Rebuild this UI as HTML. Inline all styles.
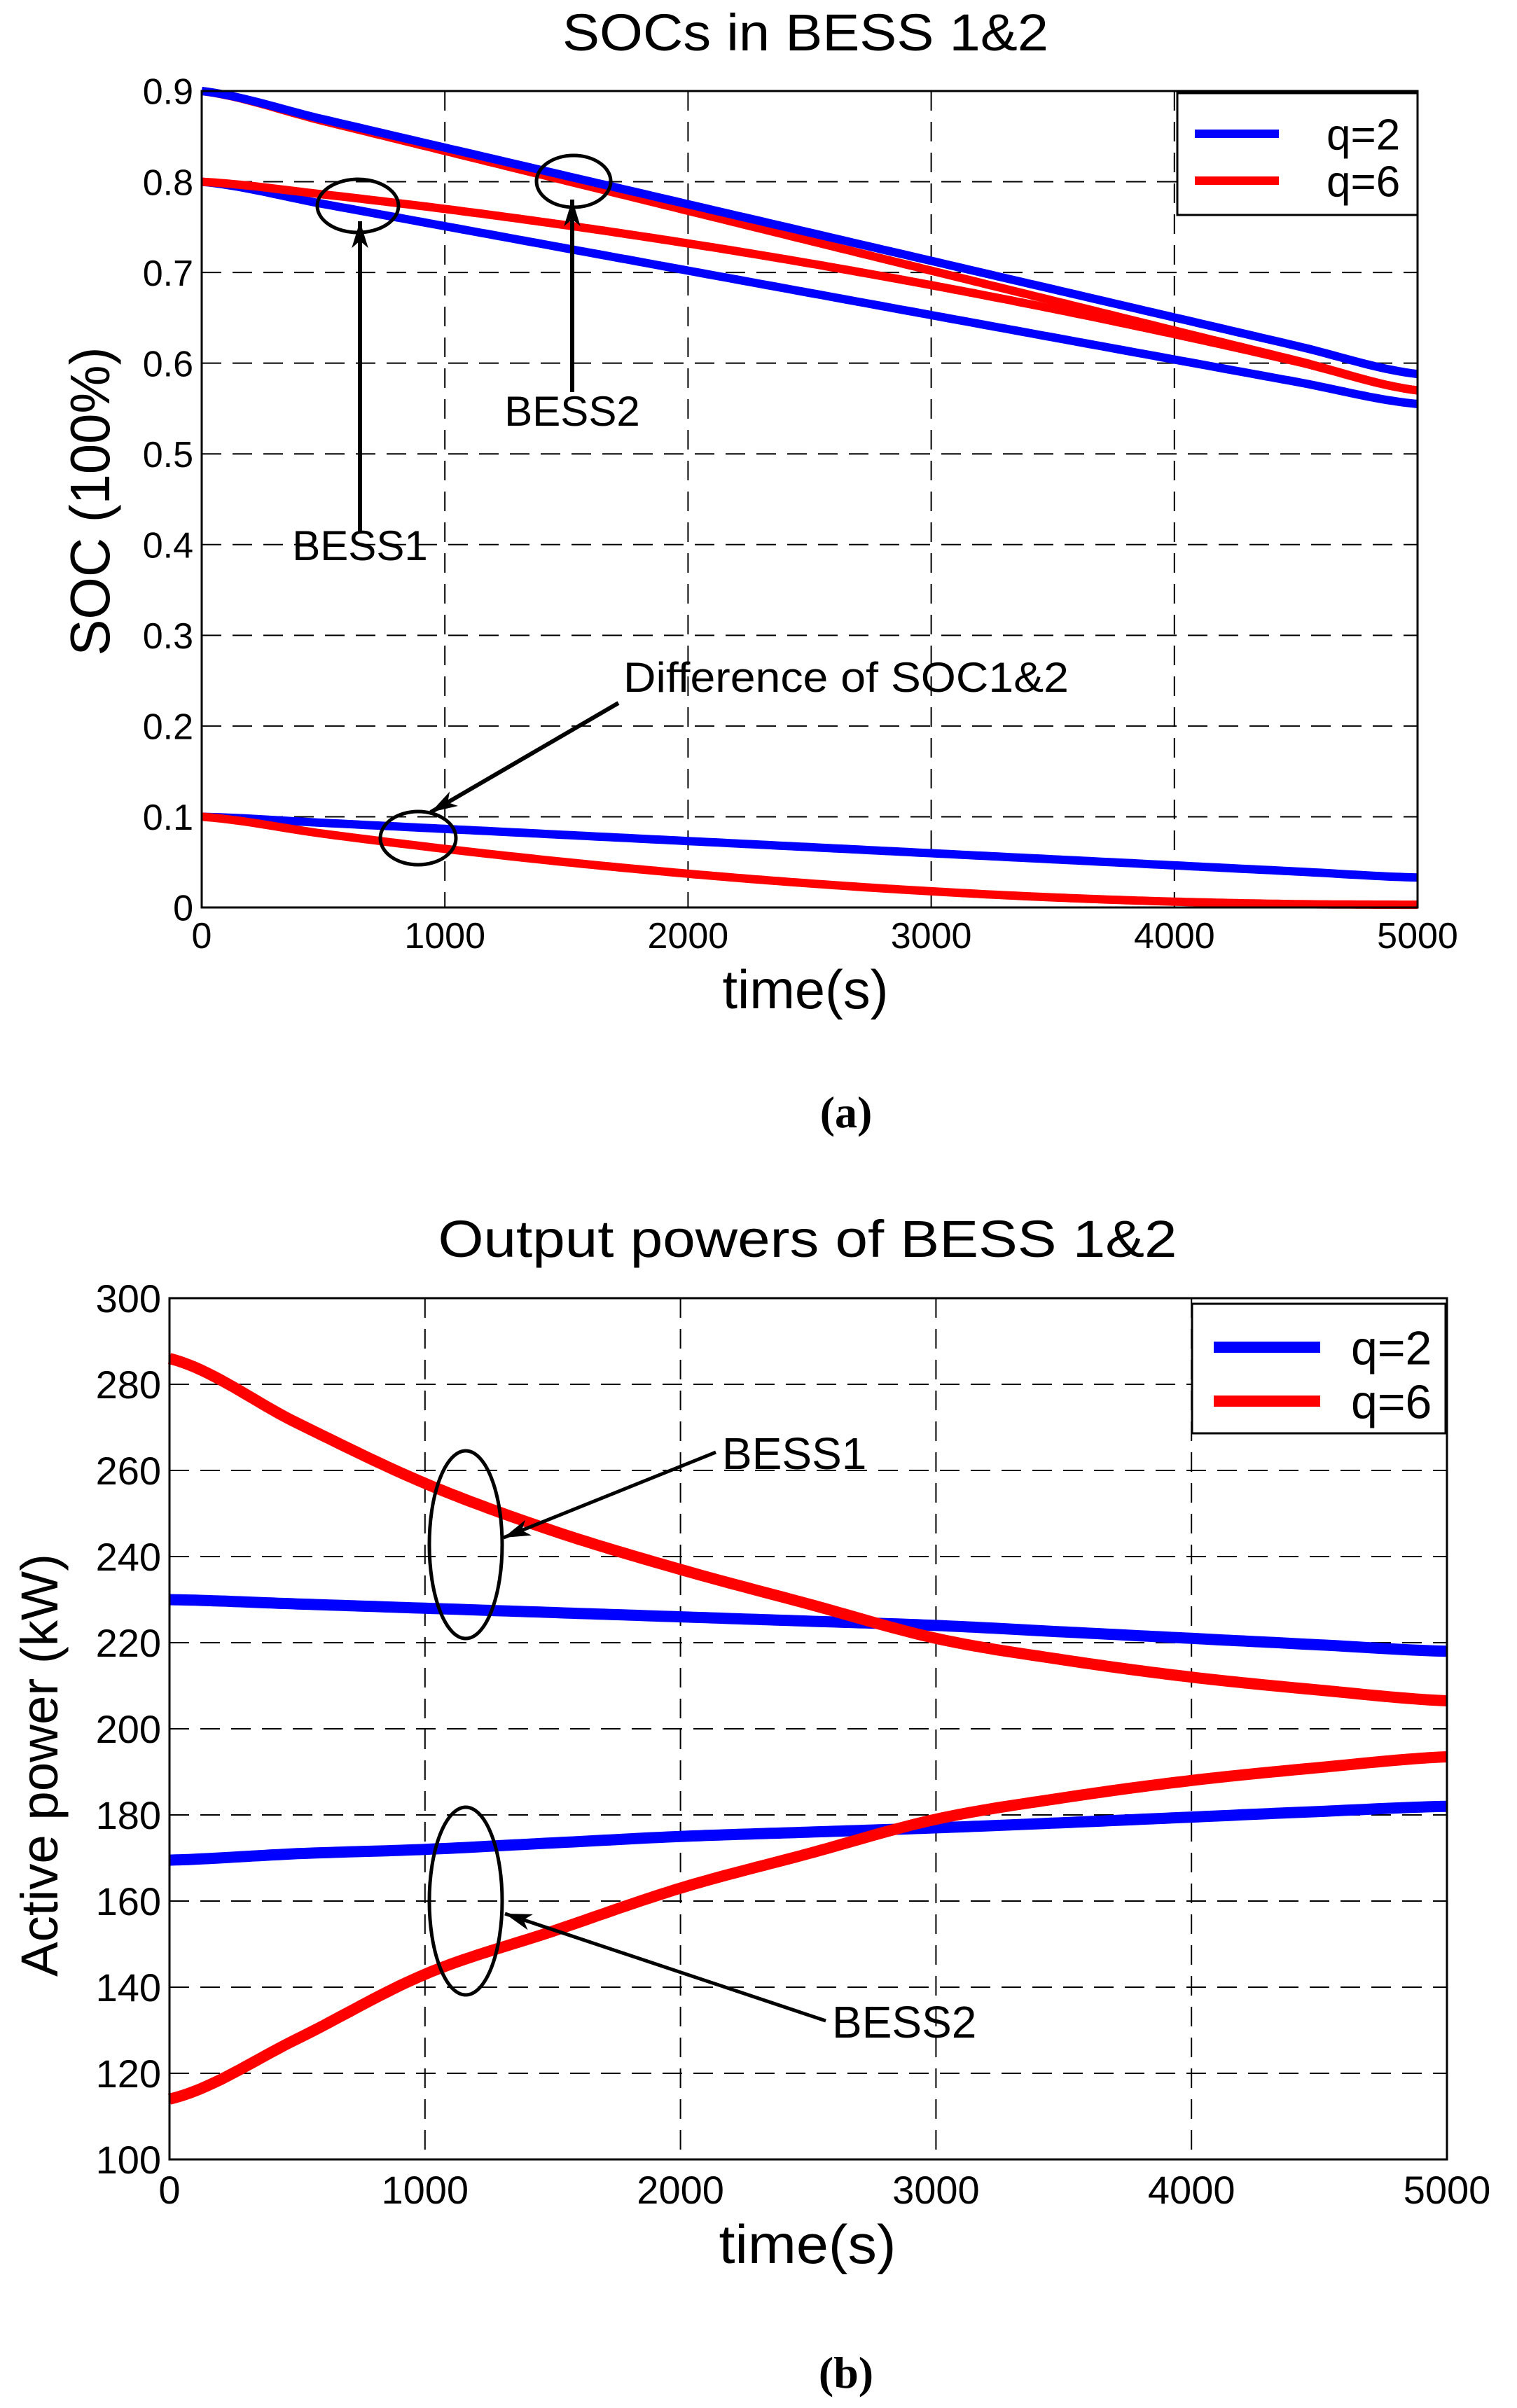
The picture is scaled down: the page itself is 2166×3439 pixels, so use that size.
<!DOCTYPE html>
<html><head><meta charset="utf-8"><style>
html,body{margin:0;padding:0;background:#fff;}
svg{display:block;}
text{font-family:"Liberation Sans",sans-serif;fill:#000;}
</style></head><body>
<svg id="s" width="2166" height="3439" viewBox="0 0 2166 3439" xmlns="http://www.w3.org/2000/svg">
<!-- Plot A texts -->
<text x="1150" y="72" font-size="74" text-anchor="middle" textLength="694" lengthAdjust="spacingAndGlyphs">SOCs in BESS 1&amp;2</text>
<text x="1150" y="1440" font-size="78" text-anchor="middle" textLength="237" lengthAdjust="spacingAndGlyphs">time(s)</text>
<text transform="translate(156,716) rotate(-90)" x="0" y="0" font-size="80" text-anchor="middle" textLength="441" lengthAdjust="spacingAndGlyphs">SOC (100%)</text>
<text x="1208" y="1610" font-size="64" font-weight="bold" text-anchor="middle" style="font-family:'Liberation Serif',serif">(a)</text>
<!-- Plot B texts -->
<text x="1153" y="1795" font-size="74" text-anchor="middle" textLength="1055" lengthAdjust="spacingAndGlyphs">Output powers of BESS 1&amp;2</text>
<text x="1153" y="3232" font-size="78" text-anchor="middle" textLength="253" lengthAdjust="spacingAndGlyphs">time(s)</text>
<text transform="translate(82,2521) rotate(-90)" x="0" y="0" font-size="74" text-anchor="middle" textLength="604" lengthAdjust="spacingAndGlyphs">Active power (kW)</text>
<text x="1208" y="3410" font-size="64" font-weight="bold" text-anchor="middle" style="font-family:'Liberation Serif',serif">(b)</text>
<g id="g"></g>
</svg>
<script>
var g=document.getElementById('g');var out='';
function interp(pts,t){
 var n=pts.length-1, f=t/5000*n, i=Math.min(Math.floor(f),n-1), u=f-i;
 var p0=pts[Math.max(i-1,0)],p1=pts[i],p2=pts[i+1],p3=pts[Math.min(i+2,n)];
 return 0.5*((2*p1)+(-p0+p2)*u+(2*p0-5*p1+4*p2-p3)*u*u+(-p0+3*p1-3*p2+p3)*u*u*u);
}
function plot(P){
 var L=P.L,R=P.R,T=P.T,B=P.B;
 var X=function(t){return L+t/5000*(R-L);}, Y=function(v){return B-(v-P.y0)/(P.y1-P.y0)*(B-T);};
 for(var k=1;k<5;k++){var x=X(k*1000);out+='<line x1="'+x+'" y1="'+T+'" x2="'+x+'" y2="'+B+'" stroke="#000" stroke-width="2" stroke-dasharray="28,16"/>';}
 for(var j=1;j<P.n;j++){var y=Y(P.y0+j*(P.y1-P.y0)/P.n);out+='<line x1="'+L+'" y1="'+y+'" x2="'+R+'" y2="'+y+'" stroke="#000" stroke-width="2" stroke-dasharray="28,16"/>';}
 P.series.forEach(function(s){
  var d='';for(var t=0;t<=5000;t+=25){d+=(t?'L':'M')+X(t).toFixed(1)+','+Y(interp(s.v,t)).toFixed(1);}
  out+='<path d="'+d+'" fill="none" stroke="'+s.c+'" stroke-width="'+P.lw+'" stroke-linejoin="round"/>';
 });
 out+='<rect x="'+L+'" y="'+T+'" width="'+(R-L)+'" height="'+(B-T)+'" fill="none" stroke="#000" stroke-width="3"/>';
 for(var k=0;k<=5;k++){out+='<text x="'+X(k*1000)+'" y="'+P.xb+'" font-size="'+P.fs+'" text-anchor="middle">'+(k*1000)+'</text>';}
 for(var j=0;j<=P.n;j++){var v=P.y0+j*(P.y1-P.y0)/P.n;out+='<text x="'+(L-12)+'" y="'+(Y(v)+P.fs*0.36)+'" font-size="'+P.fs+'" text-anchor="end">'+P.fmt(v)+'</text>';}
}
function diffR(t){var u=1-t/5000;return 0.1*u*u;}
var b2b=[],b1b=[],b2r=[],b1r=[],dB=[],dR=[];
for(var i=0;i<=10;i++){var t=i*500;
 b2b.push(0.9-0.0624*t/1000); b1b.push(0.8-0.049*t/1000);
 var r2=0.9-0.066*t/1000; b2r.push(r2); b1r.push(r2-diffR(t));
 dB.push(0.1-0.0134*t/1000); dR.push(diffR(t)+0.003*t/5000);}
plot({L:288,R:2024,T:130,B:1296,y0:0,y1:0.9,n:9,lw:12,fs:52,xb:1354,
 fmt:function(v){var s=(Math.round(v*10)/10).toString();return s;},
 series:[{c:'#f00',v:b2r},{c:'#00f',v:b2b},{c:'#00f',v:b1b},{c:'#f00',v:b1r},{c:'#00f',v:dB},{c:'#f00',v:dR}]});
var r1=[286,271,257,246,237,229,221,216,212,209,206.5];
var r2=[114,128,143,153,163,171,179,184,188,191,193.5];
var bb1=[230,229,228,227,226,225,224,222.5,221,219.5,218];
var bb2=[169.5,171,172,173.5,175,176,177,178.2,179.5,180.8,182];
plot({L:242,R:2066,T:1854,B:3084,y0:100,y1:300,n:10,lw:16,fs:56,xb:3147,
 fmt:function(v){return Math.round(v);},
 series:[{c:'#00f',v:bb1},{c:'#00f',v:bb2},{c:'#f00',v:r1},{c:'#f00',v:r2}]});
function legend(x,y,w,h,y1,y2,lx1,lx2,tx,fs,lw){
 out+='<rect x="'+x+'" y="'+y+'" width="'+w+'" height="'+h+'" fill="#fff" stroke="#000" stroke-width="3"/>';
 out+='<line x1="'+lx1+'" y1="'+y1+'" x2="'+lx2+'" y2="'+y1+'" stroke="#00f" stroke-width="'+lw+'"/>';
 out+='<line x1="'+lx1+'" y1="'+y2+'" x2="'+lx2+'" y2="'+y2+'" stroke="#f00" stroke-width="'+lw+'"/>';
 out+='<text x="'+tx+'" y="'+(y1+fs*0.36)+'" font-size="'+fs+'">q=2</text>';
 out+='<text x="'+tx+'" y="'+(y2+fs*0.36)+'" font-size="'+fs+'">q=6</text>';
}
legend(1681,133,343,174,191,258,1706,1826,1894,62,12);
legend(1702,1862,362,185,1924,2001,1733,1885,1929,68,16);
function arrow(x1,y1,x2,y2,w){
 out+='<line x1="'+x1+'" y1="'+y1+'" x2="'+x2+'" y2="'+y2+'" stroke="#000" stroke-width="'+w+'"/>';
 var a=Math.atan2(y2-y1,x2-x1),L=40,s=0.3;
 var p1=[x2-L*Math.cos(a-s),y2-L*Math.sin(a-s)],p2=[x2-L*Math.cos(a+s),y2-L*Math.sin(a+s)],p3=[x2-L*0.7*Math.cos(a),y2-L*0.7*Math.sin(a)];
 out+='<polygon points="'+x2+','+y2+' '+p1+' '+p3+' '+p2+'" fill="#000"/>';
}
function ell(cx,cy,rx,ry){out+='<ellipse cx="'+cx+'" cy="'+cy+'" rx="'+rx+'" ry="'+ry+'" fill="none" stroke="#000" stroke-width="5"/>';}
ell(511,294,58,38); arrow(514,760,514,316,6);
out+='<text x="514" y="800" font-size="60" text-anchor="middle">BESS1</text>';
ell(819,259,53,37); arrow(817,560,817,285,6);
out+='<text x="817" y="608" font-size="60" text-anchor="middle">BESS2</text>';
ell(597,1197,54,38); arrow(883,1004,615,1160,6);
out+='<text x="890" y="988" font-size="60" textLength="636" lengthAdjust="spacingAndGlyphs">Difference of SOC1&amp;2</text>';
ell(665,2206,52,134); arrow(1022,2074,719,2196,5);
out+='<text x="1031" y="2098" font-size="64">BESS1</text>';
ell(665,2715,52,134); arrow(1179,2886,721,2733,5);
out+='<text x="1188" y="2910" font-size="64">BESS2</text>';
g.innerHTML=out;
</script>
</body></html>
